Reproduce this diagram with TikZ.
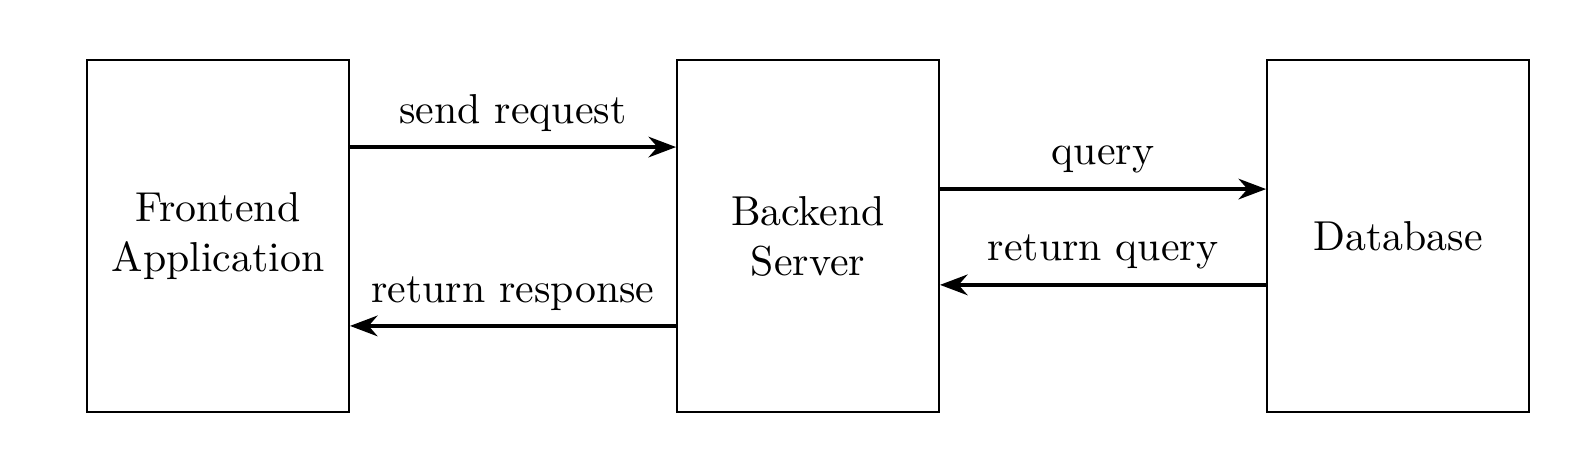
\documentclass[tikz,border=0pt]{standalone}
\usepackage{tikz}
\usetikzlibrary{arrows.meta}
\usetikzlibrary{positioning}

\begin{document}
\begin{tikzpicture}[
                box/.style = {draw, align = center, minimum width = 2.204cm, minimum height = 2.96cm},
                arr/.style = {draw, thick, -{Stealth}},
            ]
            \useasboundingbox (-1.832,-1.999) rectangle (11.546,1.984);

            \node (fe) [box] at (0,0) {Frontend\\Application};
            \node (be) [box, right = 2.74cm of fe] {Backend\\Server};
            \node (db) [box, right = 2.74cm of be] {Database};

            \path[arr] (fe.east |- 0,0.748) -- node[above] {send request} (be.west |- 0,0.748);
            \path[arr] (be.west |- 0,-0.755) -- node[above] {return response} (fe.east |- 0,-0.755);
            \path[arr] (be.east |- 0,0.395) -- node[above] {query} (db.west |- 0,0.395);
            \path[arr] (db.west |- 0,-0.41) -- node[above] {return query} (be.east |- 0,-0.41);
        \end{tikzpicture}
\end{document}
